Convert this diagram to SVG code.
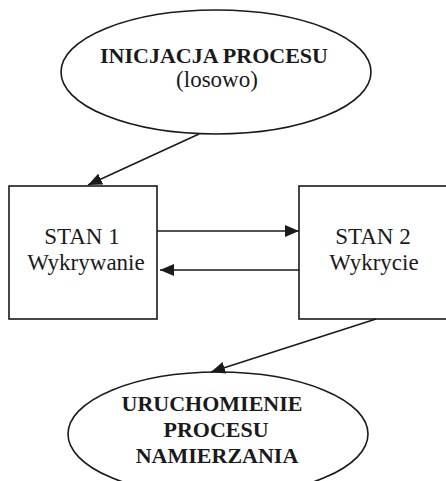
<svg xmlns="http://www.w3.org/2000/svg" width="446" height="481" viewBox="0 0 446 481">
  <style>
    .shape { fill: #ffffff; stroke: #1a1a1a; stroke-width: 1.6; }
    .edge { fill: none; stroke: #1a1a1a; stroke-width: 1.6; marker-end: url(#arrow); }
    .t { font-family: "Liberation Serif", "Times New Roman", serif; fill: #1a1a1a; text-anchor: middle; }
    .b { font-weight: bold; font-size: 22px; }
    .r { font-size: 23px; }
  </style>
  <defs>
    <marker id="arrow" viewBox="0 0 14 12" refX="14" refY="6" markerWidth="14" markerHeight="12" markerUnits="userSpaceOnUse" orient="auto">
      <path d="M0,0 L14,6 L0,12 Z" fill="#1a1a1a"/>
    </marker>
  </defs>
  <rect width="446" height="481" fill="#ffffff"/>

  <g id="start">
    <ellipse class="shape" cx="216" cy="72" rx="155" ry="62"/>
    <text class="t b" x="214" y="63">INICJACJA PROCESU</text>
    <text class="t r" x="217" y="87">(losowo)</text>
  </g>

  <g id="state1">
    <rect class="shape" x="9" y="186" width="148" height="133"/>
    <text class="t r" x="82" y="244">STAN 1</text>
    <text class="t r" x="86" y="270">Wykrywanie</text>
  </g>

  <g id="state2">
    <rect class="shape" x="299" y="186" width="150" height="133"/>
    <text class="t r" x="373" y="244">STAN 2</text>
    <text class="t r" x="374" y="270">Wykrycie</text>
  </g>

  <g id="tracking">
    <ellipse class="shape" cx="218" cy="434" rx="150" ry="62"/>
    <text class="t b" x="212" y="411">URUCHOMIENIE</text>
    <text class="t b" x="216" y="437">PROCESU</text>
    <text class="t b" x="217" y="463">NAMIERZANIA</text>
  </g>

  <g id="connectors">
    <line class="edge" x1="199" y1="134" x2="88" y2="185"/>
    <line class="edge" x1="157" y1="231" x2="299" y2="231"/>
    <line class="edge" x1="299" y1="270" x2="160" y2="270"/>
    <line class="edge" x1="376" y1="319" x2="211" y2="372"/>
  </g>
</svg>
